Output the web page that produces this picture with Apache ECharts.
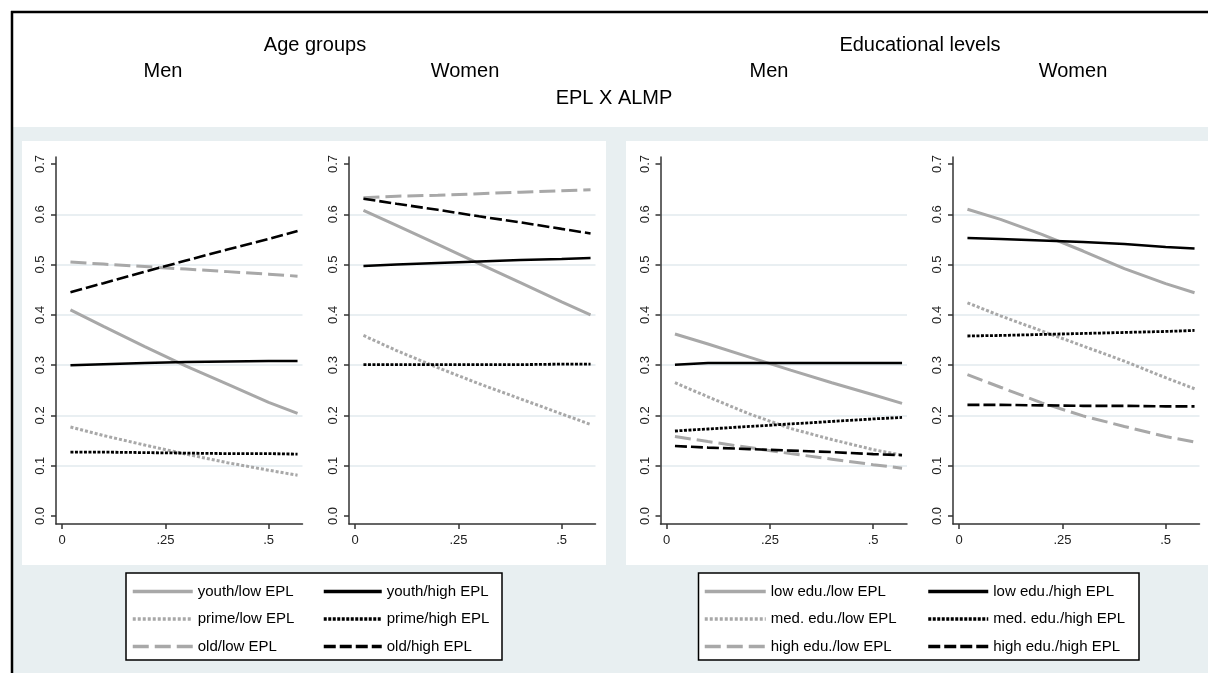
<!DOCTYPE html>
<html><head><meta charset="utf-8">
<script src="https://cdn.jsdelivr.net/npm/echarts@6/dist/echarts.min.js"></script>
<style>html,body{margin:0;padding:0;background:#fff}#c{width:1208px;height:673px}</style>
</head><body><div id="c"></div><script>
// ---- data ----
const xs = [0.02, 0.1, 0.2, 0.3, 0.4, 0.5, 0.57];
const xTicks = [0, 0.25, 0.5];
const yTicks = [0, 0.1, 0.2, 0.3, 0.4, 0.5, 0.6, 0.7];
const gridTicks = [0.1, 0.2, 0.3, 0.4, 0.5, 0.6];
const ageNames = ['youth/low EPL', 'youth/high EPL', 'prime/low EPL', 'prime/high EPL', 'old/low EPL', 'old/high EPL'];
const eduNames = ['low edu./low EPL', 'low edu./high EPL', 'med. edu./low EPL', 'med. edu./high EPL', 'high edu./low EPL', 'high edu./high EPL'];
const titles = ['Age groups', 'Educational levels', 'Men', 'Women', 'EPL X ALMP'];

// Age groups, Men
const ageMenYouthLow  = [0.410, 0.377, 0.337, 0.298, 0.262, 0.226, 0.204];
const ageMenYouthHigh = [0.300, 0.302, 0.304, 0.306, 0.307, 0.308, 0.308];
const ageMenPrimeLow  = [0.177, 0.160, 0.141, 0.123, 0.106, 0.091, 0.081];
const ageMenPrimeHigh = [0.127, 0.127, 0.126, 0.125, 0.124, 0.124, 0.123];
const ageMenOldLow    = [0.505, 0.501, 0.496, 0.491, 0.486, 0.481, 0.477];
const ageMenOldHigh   = [0.445, 0.463, 0.486, 0.508, 0.530, 0.551, 0.567];
// Age groups, Women
const ageWomYouthLow  = [0.608, 0.578, 0.540, 0.502, 0.464, 0.426, 0.400];
const ageWomYouthHigh = [0.497, 0.500, 0.503, 0.506, 0.509, 0.511, 0.513];
const ageWomPrimeLow  = [0.359, 0.329, 0.295, 0.263, 0.233, 0.203, 0.182];
const ageWomPrimeHigh = [0.301, 0.301, 0.301, 0.301, 0.301, 0.302, 0.302];
const ageWomOldLow    = [0.633, 0.636, 0.638, 0.641, 0.644, 0.647, 0.649];
const ageWomOldHigh   = [0.631, 0.621, 0.609, 0.596, 0.584, 0.571, 0.562];
// Educational levels, Men
const eduMenLowLow    = [0.362, 0.342, 0.316, 0.290, 0.265, 0.241, 0.224];
const eduMenLowHigh   = [0.301, 0.304, 0.304, 0.304, 0.304, 0.304, 0.304];
const eduMenMedLow    = [0.265, 0.237, 0.203, 0.174, 0.152, 0.132, 0.121];
const eduMenMedHigh   = [0.169, 0.173, 0.178, 0.183, 0.188, 0.193, 0.196];
const eduMenHighLow   = [0.158, 0.148, 0.136, 0.124, 0.113, 0.102, 0.095];
const eduMenHighHigh  = [0.139, 0.136, 0.133, 0.130, 0.127, 0.123, 0.121];
// Educational levels, Women
const eduWomLowLow    = [0.610, 0.590, 0.560, 0.527, 0.492, 0.462, 0.444];
const eduWomLowHigh   = [0.553, 0.551, 0.548, 0.545, 0.541, 0.535, 0.532];
const eduWomMedLow    = [0.424, 0.398, 0.368, 0.338, 0.308, 0.275, 0.253];
const eduWomMedHigh   = [0.358, 0.359, 0.361, 0.363, 0.365, 0.367, 0.369];
const eduWomHighLow   = [0.281, 0.256, 0.225, 0.199, 0.178, 0.158, 0.147];
const eduWomHighHigh  = [0.221, 0.221, 0.220, 0.219, 0.219, 0.218, 0.218];

const panels = [
  {names: ageNames, vals: [ageMenYouthLow, ageMenYouthHigh, ageMenPrimeLow, ageMenPrimeHigh, ageMenOldLow, ageMenOldHigh]},
  {names: ageNames, vals: [ageWomYouthLow, ageWomYouthHigh, ageWomPrimeLow, ageWomPrimeHigh, ageWomOldLow, ageWomOldHigh]},
  {names: eduNames, vals: [eduMenLowLow, eduMenLowHigh, eduMenMedLow, eduMenMedHigh, eduMenHighLow, eduMenHighHigh]},
  {names: eduNames, vals: [eduWomLowLow, eduWomLowHigh, eduWomMedLow, eduWomMedHigh, eduWomHighLow, eduWomHighHigh]}
];

// ---- styles / layout ----
const FONT = "'Liberation Sans', Arial, sans-serif";
const GRAY = '#a8a8a8', BLACK = '#000000';
const lineStyles = [
  {color: GRAY, width: 3, type: 'solid'},
  {color: BLACK, width: 2.5, type: 'solid'},
  {color: GRAY, width: 3, type: [3, 2]},
  {color: BLACK, width: 2.8, type: [3, 1.5]},
  {color: GRAY, width: 3, type: [16, 6]},
  {color: BLACK, width: 2.6, type: [12, 4]}
];
const gridLefts = [56, 349, 660.5, 953];
const AX = '#333333';
const BG = '#e8eff1';

const grid = [], xAxis = [], yAxis = [], series = [];
panels.forEach((p, i) => {
  grid.push({left: gridLefts[i], top: 157, width: 246.5, height: 367, containLabel: false});
  xAxis.push({
    gridIndex: i, type: 'value', min: -0.015, max: 0.582,
    axisLine: {show: true, onZero: false, lineStyle: {color: AX, width: 1.5}},
    axisTick: {show: true, length: 5, customValues: xTicks, lineStyle: {color: AX, width: 1.5}},
    axisLabel: {customValues: xTicks, margin: 10, fontFamily: FONT, fontSize: 13, color: '#222',
      formatter: v => (v === 0 ? '0' : String(v).replace(/^0/, ''))},
    splitLine: {show: false}
  });
  yAxis.push({
    gridIndex: i, type: 'value', min: -0.016, max: 0.714,
    axisLine: {show: true, onZero: false, lineStyle: {color: AX, width: 1.5}},
    axisTick: {show: true, length: 5, customValues: yTicks, lineStyle: {color: AX, width: 1.5}},
    axisLabel: {customValues: yTicks, rotate: 90, margin: 9, fontFamily: FONT, fontSize: 13, color: '#222',
      formatter: v => v.toFixed(1)},
    splitLine: {show: false}
  });
  yAxis.push({
    gridIndex: i, type: 'value', min: -0.016, max: 0.714,
    axisLine: {show: false, onZero: false},
    axisTick: {show: false, customValues: gridTicks},
    axisLabel: {show: false, customValues: gridTicks},
    splitLine: {show: true, lineStyle: {color: '#e2eaee', width: 1.5}}
  });
  p.vals.forEach((vals, s) => {
    series.push({
      type: 'line', name: p.names[s], xAxisIndex: i, yAxisIndex: i * 2,
      data: xs.map((x, k) => [x, vals[k]]),
      symbol: 'none', showSymbol: false, silent: true,
      lineStyle: lineStyles[s], itemStyle: {color: lineStyles[s].color},
      emphasis: {disabled: true}, z: 3
    });
  });
});

function legendCol(names, left, itemWidth) {
  return {
    data: names, orient: 'vertical', left: left, top: 584, padding: 0,
    itemWidth: itemWidth, itemHeight: 14, itemGap: 12.5, selectedMode: false,
    itemStyle: {opacity: 0},
    lineStyle: {width: 3.5},
    textStyle: {fontFamily: FONT, fontSize: 15, color: '#000', lineHeight: 14},
    z: 6
  };
}
const legend = [
  legendCol([ageNames[0], ageNames[2], ageNames[4]], 131, 60),
  legendCol([ageNames[1], ageNames[3], ageNames[5]], 322, 58),
  legendCol([eduNames[0], eduNames[2], eduNames[4]], 703, 61),
  legendCol([eduNames[1], eduNames[3], eduNames[5]], 926.5, 60)
];

function txt(t, x, y, size) {
  return {type: 'text', x: x, y: y, z: 10, silent: true,
    style: {text: t, fill: '#000', fontFamily: FONT, fontSize: size,
      textAlign: 'center', textVerticalAlign: 'middle', align: 'center', verticalAlign: 'middle'}};
}
const graphic = [
  {type: 'rect', shape: {x: 12, y: 127, width: 1196, height: 546}, style: {fill: BG}, z: -10, silent: true},
  {type: 'rect', shape: {x: 22, y: 141, width: 584, height: 424}, style: {fill: '#fff'}, z: -9, silent: true},
  {type: 'rect', shape: {x: 626, y: 141, width: 582, height: 424}, style: {fill: '#fff'}, z: -9, silent: true},
  {type: 'line', shape: {x1: 12, y1: 11, x2: 12, y2: 673}, style: {stroke: '#000', lineWidth: 2.5}, z: -8, silent: true},
  {type: 'line', shape: {x1: 11, y1: 12, x2: 1208, y2: 12}, style: {stroke: '#000', lineWidth: 2.5}, z: -8, silent: true},
  {type: 'rect', shape: {x: 126, y: 573, width: 376, height: 87}, style: {fill: '#fff', stroke: '#000', lineWidth: 1.5}, z: -7, silent: true},
  {type: 'rect', shape: {x: 698.5, y: 573, width: 440.5, height: 87}, style: {fill: '#fff', stroke: '#000', lineWidth: 1.5}, z: -7, silent: true},
  txt(titles[0], 315, 45, 20),
  txt(titles[1], 920, 45, 20),
  txt(titles[2], 163, 71, 20),
  txt(titles[3], 465, 71, 20),
  txt(titles[2], 769, 71, 20),
  txt(titles[3], 1073, 71, 20),
  txt(titles[4], 614, 98, 20)
];

const chart = echarts.init(document.getElementById('c'), null, {renderer: 'canvas'});
chart.setOption({
  animation: false, backgroundColor: '#ffffff',
  grid, xAxis, yAxis, series, legend, graphic
});
</script></body></html>
